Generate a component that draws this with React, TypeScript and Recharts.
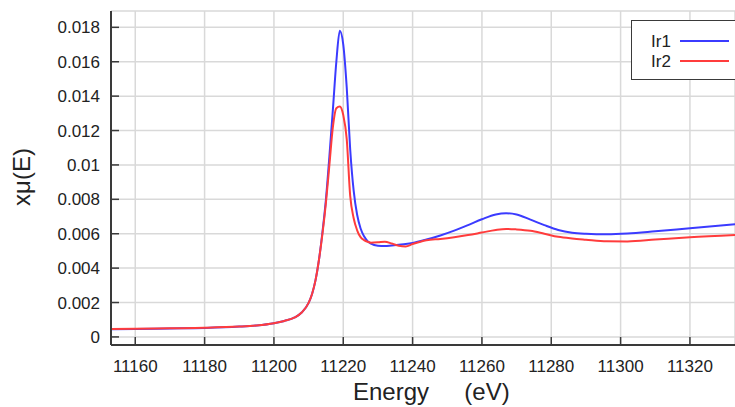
import React from "react";
import {
  LineChart,
  Line,
  XAxis,
  YAxis,
  CartesianGrid,
  Legend,
} from "recharts";

const FONT = '"Liberation Sans", Arial, sans-serif';
const AXIS = "#3a3a3a";
const TEXT = "#222";

// Energy (eV) sample points
const energy = [
  11153, 11160, 11170, 11180, 11190, 11195, 11200, 11203, 11206, 11208, 11210,
  11211, 11212, 11213, 11214, 11215, 11216, 11217, 11218, 11219, 11220, 11221,
  11222, 11223, 11224, 11225, 11226, 11227, 11228, 11230, 11232, 11234, 11236,
  11238, 11240, 11244, 11248, 11252, 11256, 11260, 11264, 11267, 11270, 11274,
  11278, 11282, 11286, 11290, 11296, 11302, 11310, 11320, 11333,
];

// xμ(E) for Ir1 (blue)
const ir1 = [
  0.00045, 0.00046, 0.00049, 0.00052, 0.0006, 0.00067, 0.0008, 0.00093,
  0.00113, 0.00142, 0.00198, 0.0025, 0.0033, 0.0045, 0.0061, 0.008, 0.0105,
  0.0132, 0.016, 0.0178, 0.017, 0.0145, 0.0109, 0.0085, 0.0071, 0.0063,
  0.00585, 0.00557, 0.00542, 0.0053, 0.00528, 0.00532, 0.00536, 0.0054, 0.00546,
  0.00566, 0.0059, 0.00618, 0.0065, 0.00684, 0.00712, 0.00719, 0.00712, 0.00682,
  0.0065, 0.00622, 0.00606, 0.006, 0.00597, 0.00601, 0.00614, 0.00632,
  0.00655,
];

// xμ(E) for Ir2 (red)
const ir2 = [
  0.00046, 0.00047, 0.0005, 0.00053, 0.0006, 0.00067, 0.0008, 0.00093,
  0.00113, 0.00142, 0.00198, 0.0025, 0.0033, 0.0045, 0.006, 0.0078, 0.01,
  0.0122, 0.0133, 0.0134, 0.0129, 0.0115, 0.0082, 0.0069, 0.0062, 0.0058,
  0.00563, 0.00553, 0.00548, 0.0055, 0.00554, 0.00543, 0.0053, 0.00526, 0.0054,
  0.00562, 0.0057, 0.0058, 0.00592, 0.00607, 0.00622, 0.00628, 0.00625, 0.00617,
  0.006, 0.00582, 0.00572, 0.00565, 0.00556, 0.00555, 0.00566, 0.0058,
  0.00593,
];

const xTicks = [11160, 11180, 11200, 11220, 11240, 11260, 11280, 11300, 11320];
const yTicks = [0, 0.002, 0.004, 0.006, 0.008, 0.01, 0.012, 0.014, 0.016, 0.018];

const series = [
  { key: "ir1", name: "Ir1", color: "#3b3bff" },
  { key: "ir2", name: "Ir2", color: "#ff3c3c" },
];

const chartData = energy.map((e, i) => ({ energy: e, ir1: ir1[i], ir2: ir2[i] }));

const fmtY = (v: number) => String(Number(v.toFixed(3)));

function BottomTick(props: any) {
  const { x, y, payload } = props;
  return (
    <g>
      <line x1={x} y1={y} x2={x} y2={y - 8} stroke={AXIS} strokeWidth={1.5} />
      <text x={x} y={y + 27} textAnchor="middle" fontSize={17} fill={TEXT} fontFamily={FONT}>
        {payload.value}
      </text>
    </g>
  );
}

function TopTick(props: any) {
  const { x, y } = props;
  return <line x1={x} y1={y} x2={x} y2={y + 8} stroke={AXIS} strokeWidth={1.5} />;
}

function LeftTick(props: any) {
  const { x, y, payload } = props;
  return (
    <g>
      <line x1={x} y1={y} x2={x + 8} y2={y} stroke={AXIS} strokeWidth={1.5} />
      <text x={x - 11} y={y + 6} textAnchor="end" fontSize={17} fill={TEXT} fontFamily={FONT}>
        {fmtY(payload.value)}
      </text>
    </g>
  );
}

function renderLegend() {
  return (
    <div
      style={{
        width: 112,
        height: 60,
        boxSizing: "border-box",
        border: `1.5px solid ${AXIS}`,
        background: "#fff",
        position: "relative",
        fontFamily: FONT,
        fontSize: 17,
        color: TEXT,
      }}
    >
      {series.map((s, i) => (
        <div key={s.key}>
          <span style={{ position: "absolute", left: 19, top: 11 + i * 20, lineHeight: "19px" }}>
            {s.name}
          </span>
          <div
            style={{
              position: "absolute",
              left: 48,
              top: 19 + i * 20,
              width: 49,
              height: 2,
              background: s.color,
            }}
          />
        </div>
      ))}
    </div>
  );
}

export default function App() {
  return (
    <div style={{ position: "absolute", left: 0, top: 0, width: 735, height: 407, overflow: "hidden", background: "#fff" }}>
      <LineChart width={735} height={407} data={chartData} margin={{ top: 11, right: 0, left: 0, bottom: 0 }}>
        <CartesianGrid stroke="#d9d9d9" strokeWidth={1.5} />
        <XAxis
          dataKey="energy"
          type="number"
          domain={[11153, 11333]}
          allowDataOverflow
          ticks={xTicks}
          height={62}
          tickSize={0}
          tickMargin={0}
          tickLine={false}
          tick={<BottomTick />}
          axisLine={{ stroke: AXIS, strokeWidth: 2 }}
          label={{
            content: () => (
              <g fontFamily={FONT} fontSize={24} fill={TEXT}>
                <text x={391} y={400} textAnchor="middle">Energy</text>
                <text x={487} y={400} textAnchor="middle">(eV)</text>
              </g>
            ),
          }}
        />
        <XAxis
          xAxisId="top"
          orientation="top"
          dataKey="energy"
          type="number"
          domain={[11153, 11333]}
          allowDataOverflow
          ticks={xTicks}
          height={0}
          tickSize={0}
          tickMargin={0}
          tickLine={false}
          tick={<TopTick />}
          axisLine={{ stroke: AXIS, strokeWidth: 2 }}
        />
        <YAxis
          type="number"
          domain={[-0.00047, 0.01895]}
          allowDataOverflow
          ticks={yTicks}
          width={111}
          tickSize={0}
          tickMargin={0}
          tickLine={false}
          tick={<LeftTick />}
          axisLine={{ stroke: AXIS, strokeWidth: 2 }}
          label={{
            content: () => (
              <text
                x={30}
                y={177}
                transform="rotate(-90 30 177)"
                textAnchor="middle"
                fontFamily={FONT}
                fontSize={24}
                fill={TEXT}
              >
                xμ(E)
              </text>
            ),
          }}
        />
        <Legend
          layout="horizontal"
          verticalAlign="middle"
          align="center"
          content={renderLegend}
          wrapperStyle={{ position: "absolute", left: 631, top: 20, width: 112 }}
        />
        {series.map((s) => (
          <Line
            key={s.key}
            type="monotone"
            dataKey={s.key}
            name={s.name}
            stroke={s.color}
            strokeWidth={2}
            dot={false}
            isAnimationActive={false}
          />
        ))}
      </LineChart>
    </div>
  );
}
